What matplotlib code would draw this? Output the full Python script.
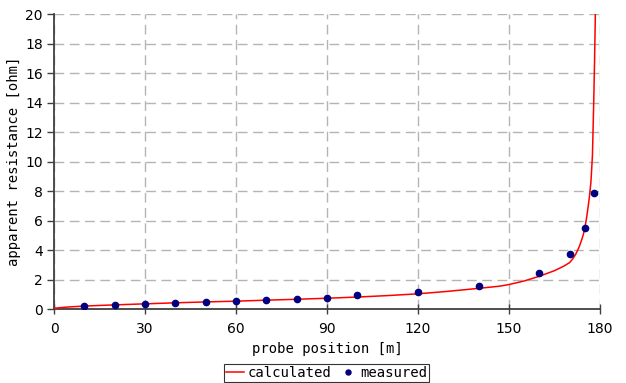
import matplotlib
matplotlib.use("Agg")
import matplotlib.pyplot as plt

# calculated curve
calc_x = [0, 2, 5, 10, 20, 30, 40, 50, 60, 70, 80, 90, 100, 110, 120, 130, 140,
          147, 150, 155, 160, 165, 168, 170, 171, 172, 173, 173.5, 174, 174.5,
          175, 175.5, 176, 176.5, 177.0, 177.5, 177.9, 178.2, 178.5]
calc_y = [0.05, 0.09, 0.14, 0.2, 0.28, 0.35, 0.42, 0.48, 0.53, 0.6, 0.66, 0.73,
          0.81, 0.91, 1.03, 1.2, 1.4, 1.55, 1.66, 1.9, 2.22, 2.6, 2.9, 3.15,
          3.4, 3.72, 4.15, 4.42, 4.72, 5.05, 5.5, 6.1, 6.8, 7.6, 8.6, 10.4,
          13.8, 16.8, 20.5]

# measured points
meas_x = [10, 20, 30, 40, 50, 60, 70, 80, 90, 100, 120, 140, 160, 170, 175, 178]
meas_y = [0.2, 0.3, 0.36, 0.43, 0.48, 0.53, 0.6, 0.66, 0.72, 0.93, 1.12, 1.55,
          2.42, 3.75, 5.5, 7.88]

x_ticks = [0, 30, 60, 90, 120, 150, 180]
y_ticks = list(range(0, 21, 2))

mono = "DejaVu Sans Mono"

fig = plt.figure(figsize=(6.26, 3.83), dpi=100)
ax = fig.add_axes([0.0863, 0.1932, 0.8722, 0.7702])

ax.plot(calc_x, calc_y, color="red", lw=1.1, label="calculated", zorder=3)
ax.plot(meas_x, meas_y, ls="none", marker="o", ms=4.5, color="#000080",
        label="measured", zorder=4)

ax.set_xlim(0, 180)
ax.set_ylim(0, 20)
ax.set_xticks(x_ticks)
ax.set_yticks(y_ticks)
ax.grid(True, color="#b4b4b4", ls=(0, (7, 4)), lw=1.0)
ax.set_axisbelow(True)

for side in ["top", "right"]:
    ax.spines[side].set_visible(False)
for side in ["left", "bottom"]:
    ax.spines[side].set_color("#404040")
    ax.spines[side].set_linewidth(1.3)
ax.tick_params(axis="x", direction="inout", length=7, width=1, color="#404040",
               labelsize=10, pad=6)
ax.tick_params(axis="y", direction="out", length=5, width=1, color="#404040",
               labelsize=10, pad=3)

ax.set_xlabel("probe position [m]", family=mono, fontsize=10, labelpad=4)
ax.set_ylabel("apparent resistance [ohm]", family=mono, fontsize=10, labelpad=3)

leg = fig.legend(loc="center", bbox_to_anchor=(0.522, 0.026), ncol=2,
                 prop={"family": mono, "size": 10}, frameon=True, fancybox=False,
                 handlelength=1.3, handletextpad=0.2, columnspacing=0.6,
                 borderpad=0.15, borderaxespad=0, markerscale=0.8)
leg.get_frame().set_edgecolor("black")
leg.get_frame().set_linewidth(0.8)

fig.savefig("out.png", dpi=100)
